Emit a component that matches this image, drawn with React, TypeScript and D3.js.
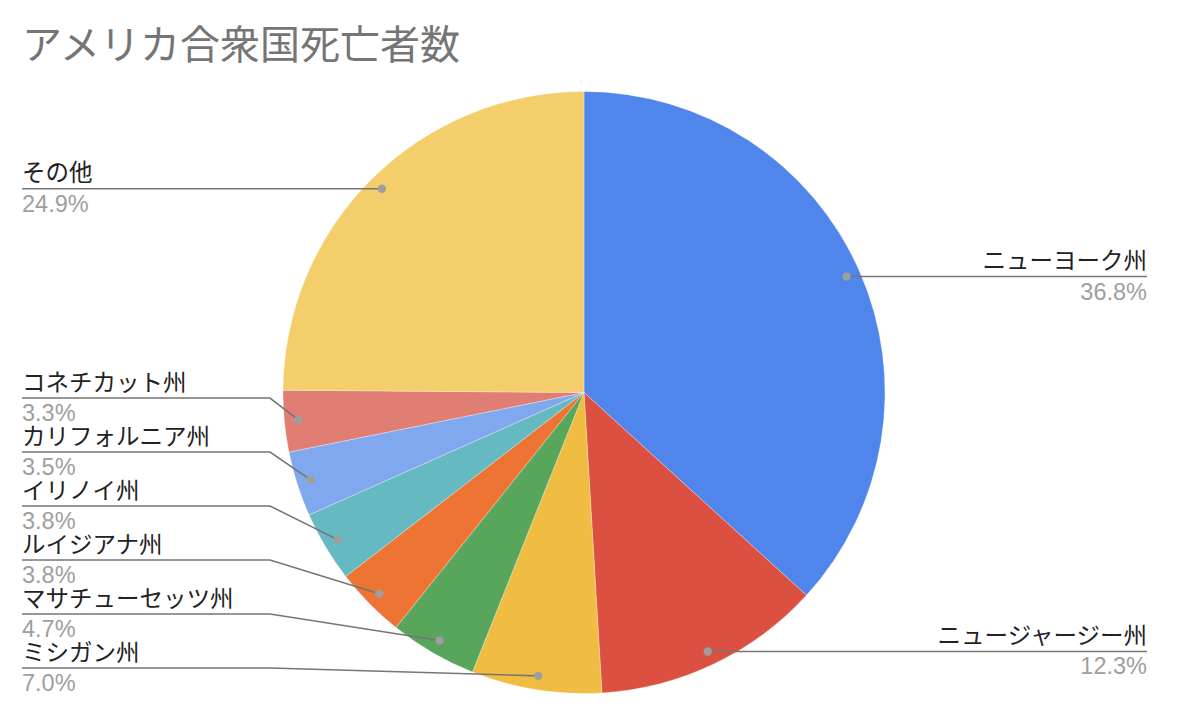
import React, { useEffect } from 'react';
import * as d3 from 'd3';

const title = 'アメリカ合衆国死亡者数';
const states = ['ニューヨーク州', 'ニュージャージー州', 'ミシガン州', 'マサチューセッツ州', 'ルイジアナ州', 'イリノイ州', 'カリフォルニア州', 'コネチカット州', 'その他'];
const shares = [36.8, 12.3, 7.0, 4.7, 3.8, 3.8, 3.5, 3.3, 24.9];
const colors = ['#5086ec', '#db5040', '#f1bc42', '#58a65c', '#ed7432', '#65b9c1', '#80a8ef', '#e07e74', '#f4ce6a'];

const W = 1178;
const H = 722;
const cx = 584;
const cy = 392.5;
const radius = 301;
const dotRadius = 287;
const labelGap = 54;
const labelMaxY = 668;

const App: React.FC = () => {
  useEffect(() => {
    document.body.style.margin = '0';
  }, []);

  const pie = d3.pie<number>().sort(null).value(d => d);
  const arcs = pie(shares);
  const arc = d3.arc<d3.PieArcDatum<number>>().innerRadius(0).outerRadius(radius);

  // dot positions + which side the label goes on
  const items = arcs.map((a, i) => {
    const mid = (a.startAngle + a.endAngle) / 2;
    return {
      i,
      left: mid > Math.PI,
      dx: cx + dotRadius * Math.sin(mid),
      dy: cy - dotRadius * Math.cos(mid),
      lineY: 0,
    };
  });

  // stack labels from the bottom so they don't overlap
  [true, false].forEach(side => {
    const group = items.filter(d => d.left === side).sort((a, b) => b.dy - a.dy);
    let prev = labelMaxY + labelGap;
    group.forEach(d => {
      d.lineY = Math.min(d.dy, prev - labelGap);
      prev = d.lineY;
    });
  });

  const leftX = 22;
  const rightX = 1147;
  const leftBend = cx - radius - 13;
  const rightBend = cx + radius + 13;
  const line = d3.line();

  return (
    <svg width={W} height={H} style={{ display: 'block', background: '#fff' }}>
      <text x={22} y={59} fill="#757575" fontSize={40} fontFamily="'Noto Sans CJK JP', sans-serif">
        {title}
      </text>
      <g transform={`translate(${cx},${cy})`}>
        {arcs.map((a, i) => (
          <path key={i} d={arc(a) ?? ''} fill={colors[i]} stroke="#ffffff" strokeOpacity={0.5} strokeWidth={0.6} />
        ))}
      </g>
      {items.map(d => {
        const tx = d.left ? leftX : rightX;
        const bx = d.left ? leftBend : rightBend;
        const anchor = d.left ? 'start' : 'end';
        return (
          <g key={d.i}>
            <path
              d={line([[tx, d.lineY], [bx, d.lineY], [d.dx, d.dy]]) ?? ''}
              fill="none"
              stroke="#757575"
              strokeWidth={1.6}
            />
            <circle cx={d.dx} cy={d.dy} r={4.2} fill="#9e9e9e" />
            <text x={tx} y={d.lineY - 7.5} textAnchor={anchor} fill="#222" fontSize={23.5} fontFamily="'Noto Sans CJK JP', sans-serif">
              {states[d.i]}
            </text>
            <text x={tx} y={d.lineY + 23} textAnchor={anchor} fill="#9e9e9e" fontSize={23.5} fontFamily="'Liberation Sans', Arial, sans-serif">
              {shares[d.i].toFixed(1)}%
            </text>
          </g>
        );
      })}
    </svg>
  );
};

export default App;
